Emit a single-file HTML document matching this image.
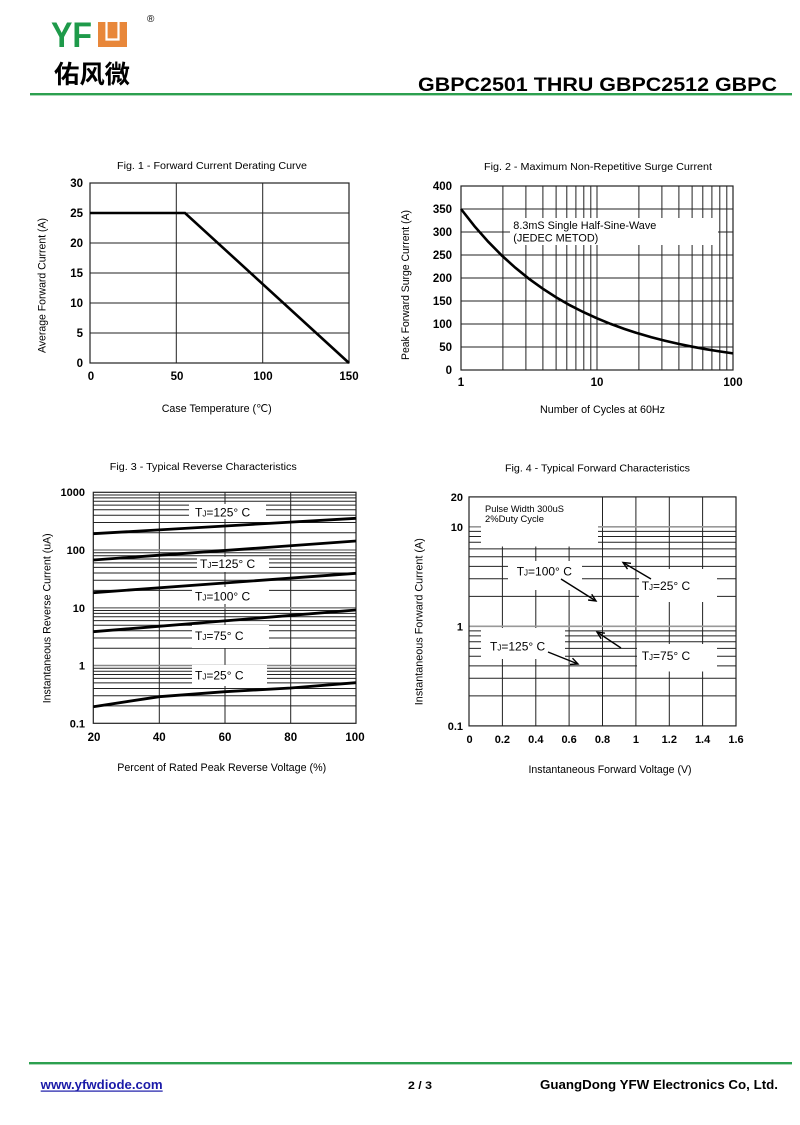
<!DOCTYPE html>
<html><head><meta charset="utf-8"><style>
html,body{margin:0;padding:0;background:#fff;}
svg{display:block;}
text{font-family:"Liberation Sans",Arial,sans-serif;fill:#000;}
</style></head><body>
<svg width="800" height="1125" viewBox="0 0 800 1125" xmlns="http://www.w3.org/2000/svg">
<!-- HEADER -->
<text x="51" y="47" font-size="35" font-weight="bold" style="fill:#1e9a4a" textLength="41" lengthAdjust="spacingAndGlyphs">YF</text>
<rect x="98" y="22" width="29" height="25" fill="#e8873a"/>
<polyline points="106.5,22 106.5,39.5 118.5,39.5 118.5,22" fill="none" stroke="#fff" stroke-width="2.2"/>
<text x="147" y="22" font-size="10">®</text>
<text x="54" y="83" font-size="25" font-weight="bold" style="font-family:'Noto Sans CJK SC','WenQuanYi Zen Hei',sans-serif" textLength="76" lengthAdjust="spacingAndGlyphs">佑风微</text>
<text x="418" y="91" font-size="19" font-weight="bold" textLength="359" lengthAdjust="spacingAndGlyphs">GBPC2501 THRU GBPC2512  GBPC</text>
<rect x="30" y="93" width="762" height="2.4" fill="#2ca04f"/>

<!-- FIG 1 -->
<text x="212" y="169" font-size="10.5" text-anchor="middle" textLength="190" lengthAdjust="spacingAndGlyphs">Fig. 1 - Forward Current Derating Curve</text>
<g stroke="#222" stroke-width="1" fill="none">
<line x1="176.3" y1="183" x2="176.3" y2="363"/>
<line x1="262.7" y1="183" x2="262.7" y2="363"/>
<line x1="90" y1="213" x2="349" y2="213"/>
<line x1="90" y1="243" x2="349" y2="243"/>
<line x1="90" y1="273" x2="349" y2="273"/>
<line x1="90" y1="303" x2="349" y2="303"/>
<line x1="90" y1="333" x2="349" y2="333"/>
<rect x="90" y="183" width="259" height="180" stroke-width="1.2"/>
</g>
<polyline points="90,213 185,213 349,363" fill="none" stroke="#000" stroke-width="2.6"/>
<g font-size="11.5" font-weight="bold" text-anchor="end">
<text x="83" y="187">30</text><text x="83" y="217">25</text><text x="83" y="247">20</text>
<text x="83" y="277">15</text><text x="83" y="307">10</text><text x="83" y="337">5</text><text x="83" y="367">0</text>
</g>
<g font-size="11.5" font-weight="bold" text-anchor="middle">
<text x="91" y="380">0</text><text x="177" y="380">50</text><text x="263" y="380">100</text><text x="349" y="380">150</text>
</g>
<text transform="translate(41.7,285.5) rotate(-90)" dy="4" font-size="11" text-anchor="middle" textLength="135" lengthAdjust="spacingAndGlyphs">Average Forward Current (A)</text>
<text x="216.7" y="412" font-size="11" text-anchor="middle" textLength="110" lengthAdjust="spacingAndGlyphs">Case Temperature (℃)</text>

<!-- FIG 2 -->
<text x="598" y="170" font-size="10.5" text-anchor="middle" textLength="228" lengthAdjust="spacingAndGlyphs">Fig. 2 - Maximum Non-Repetitive Surge Current</text>
<g stroke="#222" stroke-width="1" fill="none">
<line x1="502.9" y1="186" x2="502.9" y2="370"/><line x1="525.9" y1="186" x2="525.9" y2="370"/>
<line x1="542.9" y1="186" x2="542.9" y2="370"/><line x1="556.1" y1="186" x2="556.1" y2="370"/>
<line x1="566.8" y1="186" x2="566.8" y2="370"/><line x1="575.9" y1="186" x2="575.9" y2="370"/>
<line x1="583.8" y1="186" x2="583.8" y2="370"/><line x1="590.8" y1="186" x2="590.8" y2="370"/>
<line x1="597" y1="186" x2="597" y2="370"/>
<line x1="638.9" y1="186" x2="638.9" y2="370"/><line x1="661.9" y1="186" x2="661.9" y2="370"/>
<line x1="678.9" y1="186" x2="678.9" y2="370"/><line x1="692.1" y1="186" x2="692.1" y2="370"/>
<line x1="702.8" y1="186" x2="702.8" y2="370"/><line x1="711.9" y1="186" x2="711.9" y2="370"/>
<line x1="719.8" y1="186" x2="719.8" y2="370"/><line x1="726.8" y1="186" x2="726.8" y2="370"/>
<line x1="461" y1="209" x2="733" y2="209"/><line x1="461" y1="232" x2="733" y2="232"/>
<line x1="461" y1="255" x2="733" y2="255"/><line x1="461" y1="278" x2="733" y2="278"/>
<line x1="461" y1="301" x2="733" y2="301"/><line x1="461" y1="324" x2="733" y2="324"/>
<line x1="461" y1="347" x2="733" y2="347"/>
</g>
<rect x="510" y="218" width="208" height="27" fill="#fff"/>
<rect x="461" y="186" width="272" height="184" fill="none" stroke="#222" stroke-width="1.2"/>
<polyline points="461,209 474.6,226.3 488.2,241.7 501.8,255.5 515.4,267.8 529,278.8 542.6,288.6 556.2,297.4 569.8,305.2 583.4,312.1 597,318.3 610.6,323.9 624.2,328.9 637.8,333.3 651.4,337.2 665,340.7 678.6,343.9 692.2,346.7 705.8,349.2 719.4,351.4 733,353.4" fill="none" stroke="#000" stroke-width="2.6"/>
<text x="513.3" y="229" font-size="11" textLength="143" lengthAdjust="spacingAndGlyphs">8.3mS Single Half-Sine-Wave</text>
<text x="513.3" y="241.5" font-size="11" textLength="85" lengthAdjust="spacingAndGlyphs">(JEDEC METOD)</text>
<g font-size="11.5" font-weight="bold" text-anchor="end">
<text x="452" y="190">400</text><text x="452" y="213">350</text><text x="452" y="236">300</text>
<text x="452" y="259">250</text><text x="452" y="282">200</text><text x="452" y="305">150</text>
<text x="452" y="328">100</text><text x="452" y="351">50</text><text x="452" y="374">0</text>
</g>
<g font-size="11.5" font-weight="bold" text-anchor="middle">
<text x="461" y="386">1</text><text x="597" y="386">10</text><text x="733" y="386">100</text>
</g>
<text transform="translate(405,285) rotate(-90)" dy="4" font-size="11" text-anchor="middle" textLength="150" lengthAdjust="spacingAndGlyphs">Peak Forward Surge Current (A)</text>
<text x="602.5" y="413" font-size="11" text-anchor="middle" textLength="125" lengthAdjust="spacingAndGlyphs">Number of Cycles at 60Hz</text>

<!-- FIG 3 -->
<text x="203.3" y="470" font-size="10.5" text-anchor="middle" textLength="187" lengthAdjust="spacingAndGlyphs">Fig. 3 - Typical Reverse Characteristics</text>
<g stroke="#222" stroke-width="1" fill="none">
<line x1="93.3" y1="705.9" x2="356" y2="705.9"/><line x1="93.3" y1="695.8" x2="356" y2="695.8"/>
<line x1="93.3" y1="688.5" x2="356" y2="688.5"/><line x1="93.3" y1="682.9" x2="356" y2="682.9"/>
<line x1="93.3" y1="678.4" x2="356" y2="678.4"/><line x1="93.3" y1="674.5" x2="356" y2="674.5"/>
<line x1="93.3" y1="671.2" x2="356" y2="671.2"/><line x1="93.3" y1="668.2" x2="356" y2="668.2"/>
<line x1="93.3" y1="648.2" x2="356" y2="648.2"/><line x1="93.3" y1="638" x2="356" y2="638"/>
<line x1="93.3" y1="630.8" x2="356" y2="630.8"/><line x1="93.3" y1="625.2" x2="356" y2="625.2"/>
<line x1="93.3" y1="620.6" x2="356" y2="620.6"/><line x1="93.3" y1="616.8" x2="356" y2="616.8"/>
<line x1="93.3" y1="613.4" x2="356" y2="613.4"/><line x1="93.3" y1="610.5" x2="356" y2="610.5"/>
<line x1="93.3" y1="590.4" x2="356" y2="590.4"/><line x1="93.3" y1="580.3" x2="356" y2="580.3"/>
<line x1="93.3" y1="573" x2="356" y2="573"/><line x1="93.3" y1="567.4" x2="356" y2="567.4"/>
<line x1="93.3" y1="562.9" x2="356" y2="562.9"/><line x1="93.3" y1="559" x2="356" y2="559"/>
<line x1="93.3" y1="555.7" x2="356" y2="555.7"/><line x1="93.3" y1="552.7" x2="356" y2="552.7"/>
<line x1="93.3" y1="532.7" x2="356" y2="532.7"/><line x1="93.3" y1="522.5" x2="356" y2="522.5"/>
<line x1="93.3" y1="515.3" x2="356" y2="515.3"/><line x1="93.3" y1="509.7" x2="356" y2="509.7"/>
<line x1="93.3" y1="505.1" x2="356" y2="505.1"/><line x1="93.3" y1="501.3" x2="356" y2="501.3"/>
<line x1="93.3" y1="497.9" x2="356" y2="497.9"/><line x1="93.3" y1="495" x2="356" y2="495"/>
<line x1="159.3" y1="492.3" x2="159.3" y2="723.3"/><line x1="225" y1="492.3" x2="225" y2="723.3"/>
<line x1="290.7" y1="492.3" x2="290.7" y2="723.3"/>
</g>
<g stroke="#888" stroke-width="1.6">
<line x1="93.3" y1="550" x2="356" y2="550"/><line x1="93.3" y1="607.8" x2="356" y2="607.8"/>
<line x1="93.3" y1="665.5" x2="356" y2="665.5"/>
</g>
<g fill="#fff">
<rect x="189" y="504" width="77" height="15"/>
<rect x="197" y="557" width="72" height="15"/>
<rect x="192" y="587" width="77" height="17"/>
<rect x="192" y="625" width="77" height="23"/>
<rect x="192" y="665" width="75" height="21"/>
</g>
<rect x="93.3" y="492.3" width="262.7" height="231" fill="none" stroke="#222" stroke-width="1.2"/>
<g fill="none" stroke="#000" stroke-width="2.8">
<line x1="93.3" y1="533.7" x2="356" y2="518.3"/>
<line x1="93.3" y1="560" x2="356" y2="541"/>
<line x1="93.3" y1="592.7" x2="356" y2="573.3"/>
<line x1="93.3" y1="631.7" x2="356" y2="610"/>
<polyline points="93.3,706.7 159.3,696.7 225,691.7 290.7,688 356,682.7"/>
</g>
<g font-size="12">
<text x="195" y="516.5">T<tspan font-size="8">J</tspan>=125° C</text>
<text x="200" y="568">T<tspan font-size="8">J</tspan>=125° C</text>
<text x="195" y="600.7">T<tspan font-size="8">J</tspan>=100° C</text>
<text x="195" y="640">T<tspan font-size="8">J</tspan>=75° C</text>
<text x="195" y="679.7">T<tspan font-size="8">J</tspan>=25° C</text>
</g>
<g font-size="11" font-weight="bold" text-anchor="end">
<text x="85" y="496">1000</text><text x="85" y="554">100</text><text x="85" y="612">10</text>
<text x="85" y="669.5">1</text><text x="85" y="727.3">0.1</text>
</g>
<g font-size="11.5" font-weight="bold" text-anchor="middle">
<text x="94" y="741">20</text><text x="159.3" y="741">40</text><text x="225" y="741">60</text>
<text x="290.7" y="741">80</text><text x="355" y="741">100</text>
</g>
<text transform="translate(46.7,618.3) rotate(-90)" dy="4" font-size="11" text-anchor="middle" textLength="170" lengthAdjust="spacingAndGlyphs">Instantaneous Reverse Current (uA)</text>
<text x="221.7" y="771" font-size="11" text-anchor="middle" textLength="209" lengthAdjust="spacingAndGlyphs">Percent of Rated Peak Reverse Voltage (%)</text>

<!-- FIG 4 -->
<text x="597.5" y="471.5" font-size="10.5" text-anchor="middle" textLength="185" lengthAdjust="spacingAndGlyphs">Fig. 4 - Typical Forward Characteristics</text>
<g stroke="#222" stroke-width="1" fill="none">
<line x1="469" y1="695.9" x2="736" y2="695.9"/><line x1="469" y1="678.3" x2="736" y2="678.3"/>
<line x1="469" y1="665.9" x2="736" y2="665.9"/><line x1="469" y1="656.3" x2="736" y2="656.3"/>
<line x1="469" y1="648.4" x2="736" y2="648.4"/><line x1="469" y1="641.7" x2="736" y2="641.7"/>
<line x1="469" y1="635.9" x2="736" y2="635.9"/><line x1="469" y1="630.9" x2="736" y2="630.9"/>
<line x1="469" y1="596.4" x2="736" y2="596.4"/><line x1="469" y1="578.8" x2="736" y2="578.8"/>
<line x1="469" y1="566.4" x2="736" y2="566.4"/><line x1="469" y1="556.8" x2="736" y2="556.8"/>
<line x1="469" y1="548.9" x2="736" y2="548.9"/><line x1="469" y1="542.2" x2="736" y2="542.2"/>
<line x1="469" y1="536.5" x2="736" y2="536.5"/><line x1="469" y1="531.4" x2="736" y2="531.4"/>
<line x1="502.4" y1="497" x2="502.4" y2="726"/><line x1="535.8" y1="497" x2="535.8" y2="726"/>
<line x1="569.1" y1="497" x2="569.1" y2="726"/><line x1="602.5" y1="497" x2="602.5" y2="726"/>
<line x1="635.9" y1="497" x2="635.9" y2="726"/><line x1="669.3" y1="497" x2="669.3" y2="726"/>
<line x1="702.6" y1="497" x2="702.6" y2="726"/>
</g>
<g stroke="#999" stroke-width="1.6">
<line x1="469" y1="626.3" x2="736" y2="626.3"/><line x1="469" y1="526.8" x2="736" y2="526.8"/>
</g>
<g fill="#fff">
<rect x="481" y="497" width="117" height="49.5"/>
<rect x="508" y="561" width="74" height="29"/>
<rect x="639" y="569" width="78" height="33"/>
<rect x="481" y="628" width="84" height="31"/>
<rect x="637" y="644" width="80" height="27.5"/>
</g>
<rect x="469" y="496.9" width="267" height="229" fill="none" stroke="#222" stroke-width="1.2"/>
<text x="485" y="512" font-size="9.5" textLength="79" lengthAdjust="spacingAndGlyphs">Pulse Width 300uS</text>
<text x="485" y="522" font-size="9.5" textLength="59" lengthAdjust="spacingAndGlyphs">2%Duty Cycle</text>
<g font-size="12">
<text x="516.7" y="575.5">T<tspan font-size="8">J</tspan>=100° C</text>
<text x="641.7" y="590">T<tspan font-size="8">J</tspan>=25° C</text>
<text x="490" y="650.5">T<tspan font-size="8">J</tspan>=125° C</text>
<text x="641.7" y="660">T<tspan font-size="8">J</tspan>=75° C</text>
</g>
<g fill="none" stroke="#000" stroke-width="1.4">
<line x1="561" y1="579" x2="596" y2="601"/><polyline points="591.7,594.3 596,601 588.1,600"/>
<line x1="651" y1="579" x2="623" y2="562.5"/><polyline points="627.5,569.1 623,562.5 631,563.3"/>
<line x1="548" y1="652" x2="578" y2="664"/><polyline points="572.5,658.2 578,664 570,664.4"/>
<line x1="621" y1="648" x2="597" y2="632"/><polyline points="601.2,638.8 597,632 604.9,633.2"/>
</g>
<g font-size="11" font-weight="bold" text-anchor="end">
<text x="463" y="501">20</text><text x="463" y="531">10</text><text x="463" y="630.5">1</text><text x="463" y="730">0.1</text>
</g>
<g font-size="11" font-weight="bold" text-anchor="middle">
<text x="469.5" y="743">0</text><text x="502.4" y="743">0.2</text><text x="535.8" y="743">0.4</text>
<text x="569.1" y="743">0.6</text><text x="602.5" y="743">0.8</text><text x="635.9" y="743">1</text>
<text x="669.3" y="743">1.2</text><text x="702.6" y="743">1.4</text><text x="736" y="743">1.6</text>
</g>
<text transform="translate(418.3,621.7) rotate(-90)" dy="4" font-size="11" text-anchor="middle" textLength="167" lengthAdjust="spacingAndGlyphs">Instantaneous Forward Current (A)</text>
<text x="610" y="773" font-size="11" text-anchor="middle" textLength="163" lengthAdjust="spacingAndGlyphs">Instantaneous Forward Voltage (V)</text>

<!-- FOOTER -->
<rect x="29" y="1062" width="763" height="2.4" fill="#2ca04f"/>
<text x="40.7" y="1089" font-size="13" font-weight="bold" style="fill:#1a1aa8" textLength="122" lengthAdjust="spacingAndGlyphs">www.yfwdiode.com</text>
<rect x="40.7" y="1090.5" width="122" height="1.2" fill="#1a1aa8"/>
<text x="408" y="1089" font-size="11" font-weight="bold" textLength="24" lengthAdjust="spacingAndGlyphs">2 / 3</text>
<text x="540" y="1089" font-size="13" font-weight="bold" textLength="238" lengthAdjust="spacingAndGlyphs">GuangDong YFW Electronics Co, Ltd.</text>
</svg>
</body></html>
